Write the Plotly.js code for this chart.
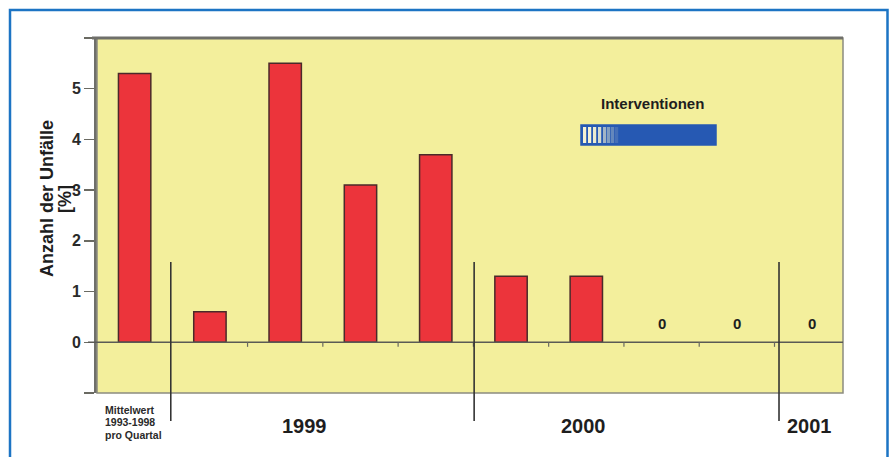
<!DOCTYPE html>
<html>
<head>
<meta charset="utf-8">
<script src="https://cdn.plot.ly/plotly-3.0.1.min.js"></script>
<style>
  html, body { margin: 0; padding: 0; background: #ffffff; }
  #chart { width: 889px; height: 457px; }
</style>
</head>
<body>
<div id="chart"></div>
<script>
// Unfallrate pro Quartal (in %), Mittelwert 1993-1998 vs. Quartale 1999-2001
const quartale = ['Mittelwert 1993-1998', 'Q1 1999', 'Q2 1999', 'Q3 1999', 'Q4 1999',
                  'Q1 2000', 'Q2 2000', 'Q3 2000', 'Q4 2000', 'Q1 2001'];
const unfaelle = [5.3, 0.6, 5.5, 3.1, 3.7, 1.3, 1.3, 0, 0, 0];

// y-axis ticks (only 0..5 labelled)
const yTicks = [-1, 0, 1, 2, 3, 4, 5, 6];
const yTickText = ['', '0', '1', '2', '3', '4', '5', ''];

// year labels under the axis and where each year block begins
const jahre = ['1999', '2000', '2001'];
const jahrLabelPos = [2.25, 5.96, 8.97];
const trennerPos = [0.48, 4.51, 8.56];

const mittelwertZeilen = ['Mittelwert', '1993-1998', 'pro Quartal'];

const FONT = 'Liberation Sans, Arial, sans-serif';
const L = 97, R = 843, T = 38, B = 393, W = 889, H = 457;
const px = x => (x - L) / (R - L);
const py = y => (B - y) / (B - T);

const bars = {
  type: 'bar',
  x: quartale.map((_, i) => i),
  y: unfaelle,
  width: 0.43,
  marker: {
    color: '#ec343b',
    line: { color: '#4a2a2a', width: unfaelle.map(v => (v === 0 ? 0 : 1.5)) }
  },
  hoverinfo: 'y'
};

const shapes = [];

// outer blue frame
shapes.push({ type: 'rect', xref: 'paper', yref: 'paper',
  x0: px(10), x1: px(887.5), y0: py(470), y1: py(10),
  line: { color: '#1c74c4', width: 2.5 }, layer: 'below' });

// plot area border: thin grey frame, heavier top edge
shapes.push({ type: 'rect', xref: 'paper', yref: 'paper', x0: 0, x1: 1, y0: 0, y1: 1,
  line: { color: '#8c8c80', width: 1.5 }, layer: 'above' });
shapes.push({ type: 'line', xref: 'paper', yref: 'paper', x0: px(92), x1: 1, y0: 1, y1: 1,
  line: { color: '#6f6f6a', width: 3 }, layer: 'above' });

// zero line, reaching left past the axis like a tick
shapes.push({ type: 'line', xref: 'paper', yref: 'y', x0: px(88), x1: 1, y0: 0, y1: 0,
  line: { color: '#5a5a55', width: 1.5 }, layer: 'above' });

// small boundary ticks on the zero line between quarters
for (let i = 1; i < quartale.length - 1; i++) {
  shapes.push({ type: 'line', xref: 'x', yref: 'y', x0: i + 0.5, x1: i + 0.5, y0: 0, y1: -0.09,
    line: { color: '#6a6a60', width: 1.2 }, layer: 'above' });
}

// year separators
trennerPos.forEach(xv => {
  shapes.push({ type: 'line', xref: 'x', yref: 'paper', x0: xv, x1: xv,
    y0: py(421), y1: py(262), line: { color: '#333333', width: 1.6 }, layer: 'above' });
});

// "Interventionen" bar: blue block with light stripes fading in from the left
const boxX0 = 581, boxX1 = 716, boxY0 = 125, boxY1 = 145;
shapes.push({ type: 'rect', xref: 'paper', yref: 'paper',
  x0: px(boxX0), x1: px(boxX1), y0: py(boxY1), y1: py(boxY0),
  fillcolor: '#2659b3', line: { color: '#2659b3', width: 1.5 }, layer: 'above' });
const stripeStarts = [583, 588, 593, 598, 603, 607, 611, 615];
const stripeAlpha = [1, 1, 0.95, 0.85, 0.6, 0.45, 0.3, 0.15];
stripeStarts.forEach((s, k) => {
  shapes.push({ type: 'rect', xref: 'paper', yref: 'paper',
    x0: px(s), x1: px(s + 3.2), y0: py(boxY1 - 2), y1: py(boxY0 + 2),
    fillcolor: 'rgba(246,243,210,' + stripeAlpha[k] + ')', line: { width: 0 }, layer: 'above' });
});

const annotations = [];

// y-axis title, two lines
annotations.push({ xref: 'paper', yref: 'paper', x: px(47), y: py(199),
  text: '<b>Anzahl der Unfälle</b>', textangle: -90, showarrow: false,
  font: { family: FONT, size: 18, color: '#1e1e1e' }, xanchor: 'center', yanchor: 'middle' });
annotations.push({ xref: 'paper', yref: 'paper', x: px(65), y: py(199),
  text: '<b>[%]</b>', textangle: -90, showarrow: false,
  font: { family: FONT, size: 18, color: '#1e1e1e' }, xanchor: 'center', yanchor: 'middle' });

// value labels for quarters without accidents
unfaelle.forEach((v, i) => {
  if (v === 0) {
    annotations.push({ xref: 'x', yref: 'y', x: i, y: v, yshift: 19,
      text: '<b>' + v + '</b>', showarrow: false,
      font: { family: FONT, size: 15, color: '#1e1e1e' }, xanchor: 'center', yanchor: 'middle' });
  }
});

// year labels
jahre.forEach((j, k) => {
  annotations.push({ xref: 'x', yref: 'paper', x: jahrLabelPos[k], y: py(426),
    text: '<b>' + j + '</b>', showarrow: false,
    font: { family: FONT, size: 20, color: '#1e1e1e' }, xanchor: 'center', yanchor: 'middle' });
});

// reference-period label under the first bar
mittelwertZeilen.forEach((z, k) => {
  annotations.push({ xref: 'paper', yref: 'paper', x: px(103), y: py(409.5 + k * 12.5),
    text: '<b>' + z + '</b>', showarrow: false,
    font: { family: FONT, size: 10.5, color: '#2a2a2a' }, xanchor: 'left', yanchor: 'middle' });
});

// caption for the intervention period
annotations.push({ xref: 'paper', yref: 'paper', x: px(652.5), y: py(103.5),
  text: '<b>Interventionen</b>', showarrow: false,
  font: { family: FONT, size: 15, color: '#1e1e1e' }, xanchor: 'center', yanchor: 'middle' });

const layout = {
  width: W, height: H,
  margin: { l: L, r: W - R, t: T, b: H - B, pad: 0 },
  paper_bgcolor: '#ffffff',
  plot_bgcolor: '#f3ef9c',
  showlegend: false,
  xaxis: {
    range: [-0.5, 9.41],
    showticklabels: false, ticks: '', showgrid: false, zeroline: false, showline: false
  },
  yaxis: {
    range: [-1, 6],
    tickvals: yTicks, ticktext: yTickText,
    ticks: 'outside', ticklen: 10, tickwidth: 1.5, tickcolor: '#6a6a62',
    tickfont: { family: FONT, size: 16, color: '#2a2a2a', weight: 'bold' },
    showgrid: false, zeroline: false,
    showline: true, linecolor: '#6f6f6a', linewidth: 3
  },
  shapes: shapes,
  annotations: annotations
};

Plotly.newPlot('chart', [bars], layout, { displayModeBar: false, staticPlot: true });
</script>
</body>
</html>
